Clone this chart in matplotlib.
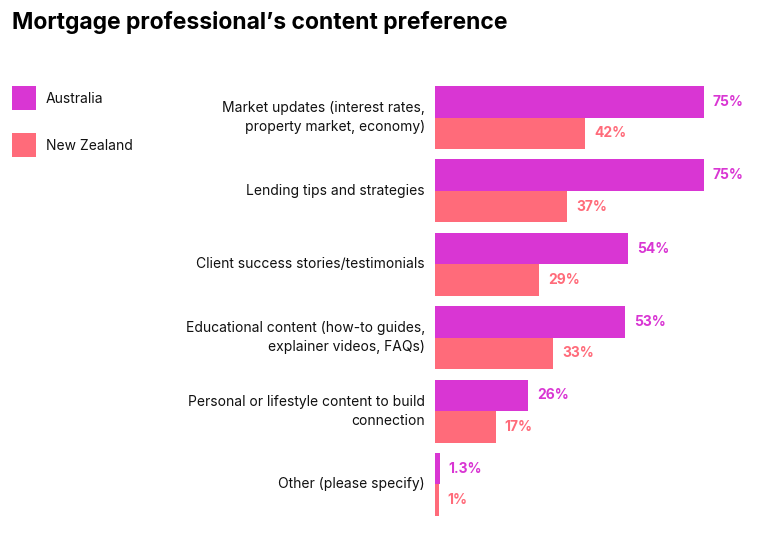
import matplotlib.pyplot as plt
from matplotlib.patches import Rectangle
import numpy as np

plt.rcParams['font.family'] = ['Inter', 'DejaVu Sans']

categories = [
    "Market updates (interest rates,\nproperty market, economy)",
    "Lending tips and strategies",
    "Client success stories/testimonials",
    "Educational content (how-to guides,\nexplainer videos, FAQs)",
    "Personal or lifestyle content to build\nconnection",
    "Other (please specify)",
]
australia = [75, 75, 54, 53, 26, 1.3]
new_zealand = [42, 37, 29, 33, 17, 1]
aus_labels = ["75%", "75%", "54%", "53%", "26%", "1.3%"]
nz_labels = ["42%", "37%", "29%", "33%", "17%", "1%"]
series_names = ["Australia", "New Zealand"]

AUS_COLOR = '#D936D3'
NZ_COLOR = '#FF6B7A'

W, H = 770, 542
fig = plt.figure(figsize=(W / 100, H / 100), dpi=100)
ax = fig.add_axes([435 / W, (H - 516) / H, (765 - 435) / W, 430 / H])

y = np.arange(len(categories))
h = 0.43
ax.barh(y - h / 2, australia, height=h, color=AUS_COLOR, linewidth=0)
ax.barh(y + h / 2, new_zealand, height=h, color=NZ_COLOR, linewidth=0)

for yi, v, lab in zip(y, australia, aus_labels):
    ax.annotate(lab, (v, yi - h / 2), xytext=(9, 0), textcoords='offset pixels',
                va='center', ha='left', fontsize=10, fontweight='bold', color=AUS_COLOR)
for yi, v, lab in zip(y, new_zealand, nz_labels):
    ax.annotate(lab, (v, yi + h / 2), xytext=(9, 0), textcoords='offset pixels',
                va='center', ha='left', fontsize=10, fontweight='bold', color=NZ_COLOR)

for yi, cat in zip(y, categories):
    ax.annotate(cat, (0, yi), xytext=(-10, 0), textcoords='offset pixels',
                va='center', ha='right', fontsize=10, color='#111111',
                linespacing=1.45)

ax.set_xlim(0, 330 / 3.58)
ax.set_ylim(len(categories) - 1 + h, -h)
ax.axis('off')

fig.text(12 / W, 1 - 22 / H, "Mortgage professional\u2019s content preference",
         fontsize=16.5, fontweight='bold', va='center', ha='left', color='black')

# legend: squares with labels
for i, (name, col) in enumerate(zip(series_names, [AUS_COLOR, NZ_COLOR])):
    top = 86 + 47 * i
    fig.add_artist(Rectangle((12 / W, 1 - (top + 24) / H), 24 / W, 24 / H,
                             transform=fig.transFigure, color=col, linewidth=0))
    fig.text(46 / W, 1 - (top + 13) / H, name, fontsize=10, va='center',
             ha='left', color='#111111')

fig.savefig('out.png', dpi=100)
